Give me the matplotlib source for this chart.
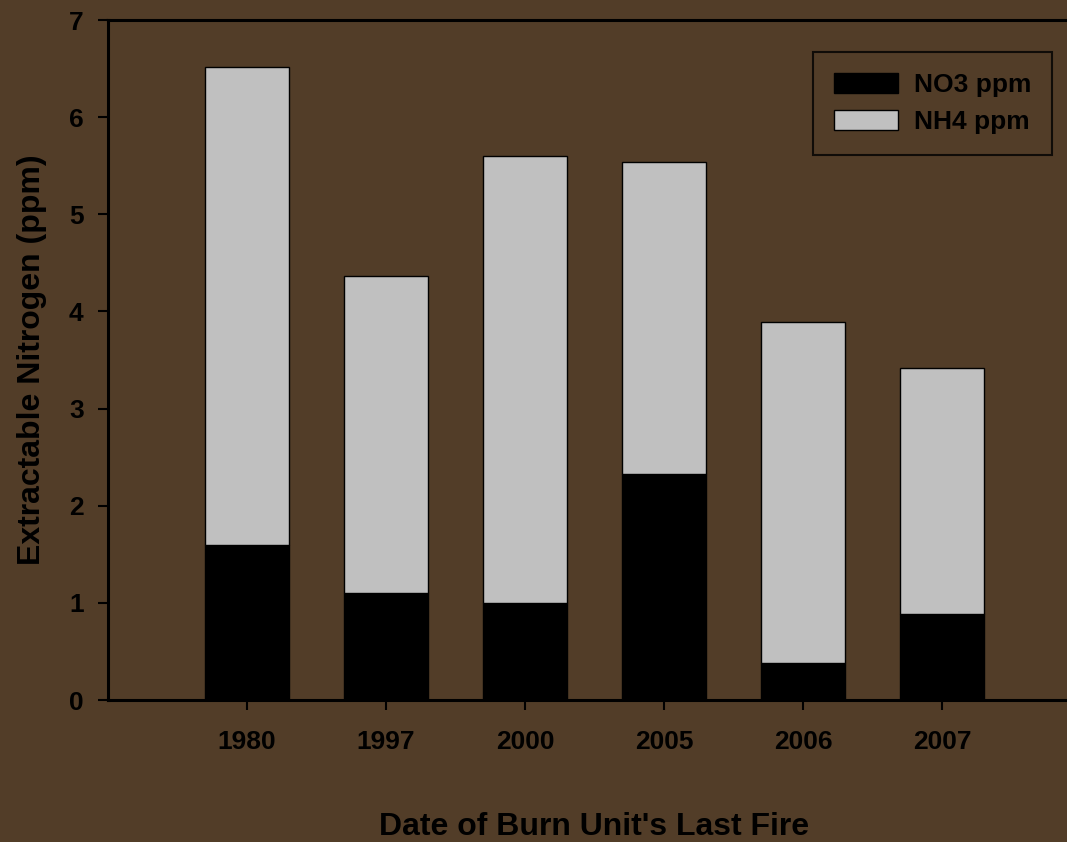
import numpy as np
import matplotlib
matplotlib.use("Agg")
import matplotlib.pyplot as plt

# 数据
years = ["1980", "1997", "2000", "2005", "2006", "2007"]
no3 = [1.60, 1.10, 1.00, 2.33, 0.38, 0.885]
total = [6.52, 4.37, 5.60, 5.54, 3.89, 3.42]
nh4 = [t - n for t, n in zip(total, no3)]

bg = "#523D28"
plt.rcParams["font.family"] = ["Liberation Sans", "DejaVu Sans"]
plt.rcParams["font.weight"] = "bold"

fig = plt.figure(figsize=(10.67, 8.42), dpi=100, facecolor=bg)
ax = fig.add_axes([0.1012, 0.1686, 0.912, 0.8076], facecolor=bg)

x = np.arange(len(years))
w = 0.61
ax.bar(x, no3, w, color="black", edgecolor="black", linewidth=1, label="NO3 ppm")
ax.bar(x, nh4, w, bottom=no3, color="#C0C0C0", edgecolor="black", linewidth=1, label="NH4 ppm")

ax.set_xlim(-1, 6)
ax.set_ylim(0, 7)
ax.set_xticks(x)
ax.set_xticklabels(years)
ax.set_yticks(range(8))

for s in ["left", "bottom", "top"]:
    ax.spines[s].set_linewidth(2.2)
    ax.spines[s].set_color("black")
ax.spines["right"].set_visible(False)

ax.tick_params(axis="both", direction="out", length=7.5, width=1.5, colors="black", labelsize=19)
ax.tick_params(axis="x", pad=14)
ax.tick_params(axis="y", pad=10)
for lab in ax.get_xticklabels() + ax.get_yticklabels():
    lab.set_fontweight("bold")

ax.set_ylabel("Extractable Nitrogen (ppm)", fontsize=23, fontweight="bold", labelpad=16)
ax.set_xlabel("Date of Burn Unit's Last Fire", fontsize=23, fontweight="bold", labelpad=42)

leg = ax.legend(loc="upper right", bbox_to_anchor=(1052 / 1067, 1 - 52 / 842),
                bbox_transform=fig.transFigure, fontsize=19, frameon=True, fancybox=False,
                handlelength=2.4, handleheight=0.75, borderpad=0.8, labelspacing=0.5,
                handletextpad=0.6, borderaxespad=0)
leg.get_frame().set_facecolor(bg)
leg.get_frame().set_edgecolor("black")
leg.get_frame().set_linewidth(1.5)
for t in leg.get_texts():
    t.set_fontweight("bold")

fig.savefig("out.png", dpi=100, facecolor=bg)
